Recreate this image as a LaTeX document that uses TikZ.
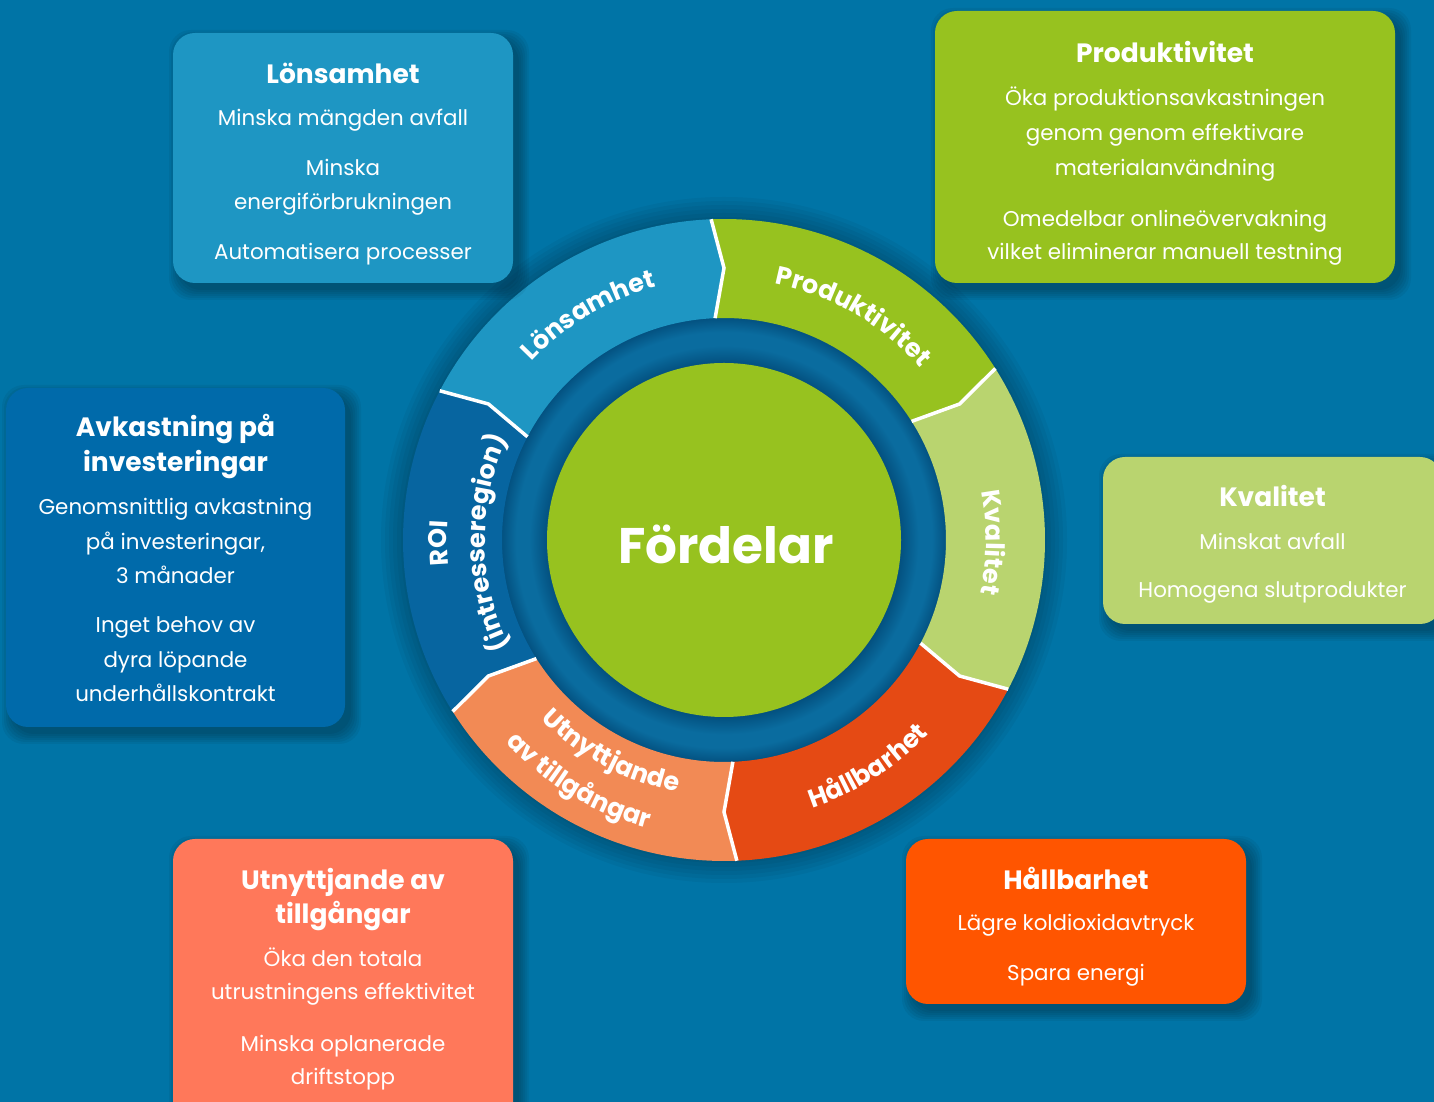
\documentclass[tikz,border=0pt]{standalone}
\usepackage{fontspec}
\setmainfont{Poppins}
\usetikzlibrary{decorations.text}
\definecolor{bg}{HTML}{0074A6}
\definecolor{cLon}{HTML}{1E96C3}
\definecolor{cProd}{HTML}{97C21F}
\definecolor{cKval}{HTML}{B9D46F}
\definecolor{cHallBox}{HTML}{FF5500}
\definecolor{cHallRing}{HTML}{E54A14}
\definecolor{cUtnBox}{HTML}{FF785A}
\definecolor{cUtnRing}{HTML}{F28A55}
\definecolor{cRoiBox}{HTML}{006AAA}
\definecolor{cRoiRing}{HTML}{0765A0}
\definecolor{gapDark}{HTML}{03507F}
\definecolor{gapMid}{HTML}{0A6C9F}
\pgfdeclareradialshading{gapshade}{\pgfpoint{0bp}{0bp}}{color(0bp)=(gapMid); color(19.8bp)=(gapDark); color(21.8bp)=(gapMid); color(23.3bp)=(gapMid); color(25bp)=(gapDark); color(50bp)=(gapDark)}
\newcommand\boxtitle{\fontsize{26.5}{30}\selectfont\bfseries}
\newcommand\boxbody{\fontsize{21.4}{30}\selectfont}
\newcommand\ringfont{\fontsize{25.5}{28}\selectfont\bfseries}
\newcommand\softshadow[4]{%
  \foreach \k in {0,2,...,10}{%
    \fill[black,opacity=0.05,rounded corners=22pt] ({#1+6-\k},{#2-7-\k}) rectangle ({#3+6+\k},{#4-7+\k});
  }}
\tikzset{
  box/.style={rounded corners=22pt, inner sep=0pt, draw=none},
  ttl/.style={anchor=base, inner sep=0pt, text=white, font=\boxtitle},
  bdy/.style={anchor=base, inner sep=0pt, text=white, font=\boxbody},
  sep/.style={draw=white, line width=3.5pt, line join=miter},
  ringtext/.style={decorate, decoration={text along path, text align=center, text={|\ringfont\color{white}|#1}}}
}
\begin{document}
\begin{tikzpicture}[x=1pt,y=1pt]
\useasboundingbox (0,0) rectangle (1434,1102);
\clip (0,0) rectangle (1434,1102);
\fill[bg] (0,0) rectangle (1434,1102);

% ---------- ring ----------
\begin{scope}[shift={(724,562)}]
  \foreach \rr in {323,327,...,343} \fill[black,opacity=0.04] (0,0) circle[radius=\rr];
  \shade[shading=gapshade] (0,0) circle[radius=223];
  % segments
  \foreach \A/\B/\col in {150/90/cLon, 90/30/cProd, 30/-30/cKval, -30/-90/cHallRing, -90/-150/cUtnRing, -150/-210/cRoiRing}{
    \fill[\col] ({\A+2.3}:321) arc[start angle={\A+2.3}, end angle={\B+2.3}, radius=321]
       -- (\B:272) -- ({\B+2.3}:222) arc[start angle={\B+2.3}, end angle={\A+2.3}, radius=222]
       -- (\A:272) -- cycle;
  }
  % separators
  \foreach \A in {90,30,-30,-90,-150,150}{
    \draw[sep] ({\A+2.3}:321) -- (\A:272) -- ({\A+2.3}:222);
  }
  % labels
  \path[ringtext=Lönsamhet] (161:262) arc[start angle=161, end angle=81, radius=262];
  \path[ringtext=Produktivitet] (100:261) arc[start angle=100, end angle=20, radius=261];
  \path[ringtext=Kvalitet] (39.5:262) arc[start angle=39.5, end angle=-40.5, radius=262];
  \path[ringtext=Hållbarhet] (-97.6:282) arc[start angle=-97.6, end angle=-17.6, radius=282];
  \path[ringtext=Utnyttjande] (-158:256) arc[start angle=-158, end angle=-78, radius=256];
  \path[ringtext=av tillgångar] (-161:298) arc[start angle=-161, end angle=-81, radius=298];
  \path[ringtext=ROI] (220.7:277) arc[start angle=220.7, end angle=140.7, radius=277];
  \path[ringtext=(intresseregion)] (220.7:239) arc[start angle=220.7, end angle=140.7, radius=239];
  % centre
  \node[circle, fill=cProd, minimum size=354pt, inner sep=0pt] (centre) at (0,0) {};
\end{scope}
\node[anchor=base, inner sep=0pt, text=white, font=\fontsize{50}{56}\selectfont\bfseries] (ford) at (726,538.5) {Fördelar};

% ---------- boxes ----------
\softshadow{173}{819}{513}{1069}
\softshadow{935}{819}{1395}{1091}
\softshadow{6}{375}{345}{714}
\softshadow{1103}{478}{1442}{645}
\softshadow{906}{98}{1246}{263}
\softshadow{173}{-30}{513}{263}

\node[box, fill=cLon, minimum width=340pt, minimum height=250pt] (lonbox) at (343,944) {};
\node[ttl] (lon0) at (343,1018) {Lönsamhet};
\node[bdy] (lon1) at (343,976) {Minska mängden avfall};
\node[bdy] (lon2) at (343,926) {Minska};
\node[bdy] (lon3) at (343,892) {energiförbrukningen};
\node[bdy] (lon4) at (343,842) {Automatisera processer};

\node[box, fill=cProd, minimum width=460pt, minimum height=272pt] (probox) at (1165,955) {};
\node[ttl] (pro0) at (1165,1039) {Produktivitet};
\node[bdy] (pro1) at (1165,996) {Öka produktionsavkastningen};
\node[bdy] (pro2) at (1165,961) {genom genom effektivare};
\node[bdy] (pro3) at (1165,926) {materialanvändning};
\node[bdy] (pro4) at (1165,875) {Omedelbar onlineövervakning};
\node[bdy] (pro5) at (1165,842) {vilket eliminerar manuell testning};

\node[box, fill=cRoiBox, minimum width=339pt, minimum height=339pt] (roibox) at (175.5,544.5) {};
\node[ttl] (roi0) at (175.5,665) {Avkastning på};
\node[ttl] (roi1) at (175.5,630) {investeringar};
\node[bdy] (roi2) at (175.5,587) {Genomsnittlig avkastning};
\node[bdy] (roi3) at (175.5,552) {på investeringar,};
\node[bdy] (roi4) at (175.5,518) {3 månader};
\node[bdy] (roi5) at (175.5,469) {Inget behov av};
\node[bdy] (roi6) at (175.5,434) {dyra löpande};
\node[bdy] (roi7) at (175.5,400) {underhållskontrakt};

\node[box, fill=cKval, minimum width=339pt, minimum height=167pt] (kvabox) at (1272.5,561.5) {};
\node[ttl] (kva0) at (1272.5,595) {Kvalitet};
\node[bdy] (kva1) at (1272.5,552) {Minskat avfall};
\node[bdy] (kva2) at (1272.5,504) {Homogena slutprodukter};

\node[box, fill=cHallBox, minimum width=340pt, minimum height=165pt] (halbox) at (1076,180.5) {};
\node[ttl] (hal0) at (1076,212) {Hållbarhet};
\node[bdy] (hal1) at (1076,171) {Lägre koldioxidavtryck};
\node[bdy] (hal2) at (1076,121) {Spara energi};

\node[box, fill=cUtnBox, minimum width=340pt, minimum height=293pt] (utnbox) at (343,116.5) {};
\node[ttl] (utn0) at (343,212) {Utnyttjande av};
\node[ttl] (utn1) at (343,178) {tillgångar};
\node[bdy] (utn2) at (343,135) {Öka den totala};
\node[bdy] (utn3) at (343,102) {utrustningens effektivitet};
\node[bdy] (utn4) at (343,50) {Minska oplanerade};
\node[bdy] (utn5) at (343,17) {driftstopp};
\end{tikzpicture}
\end{document}
